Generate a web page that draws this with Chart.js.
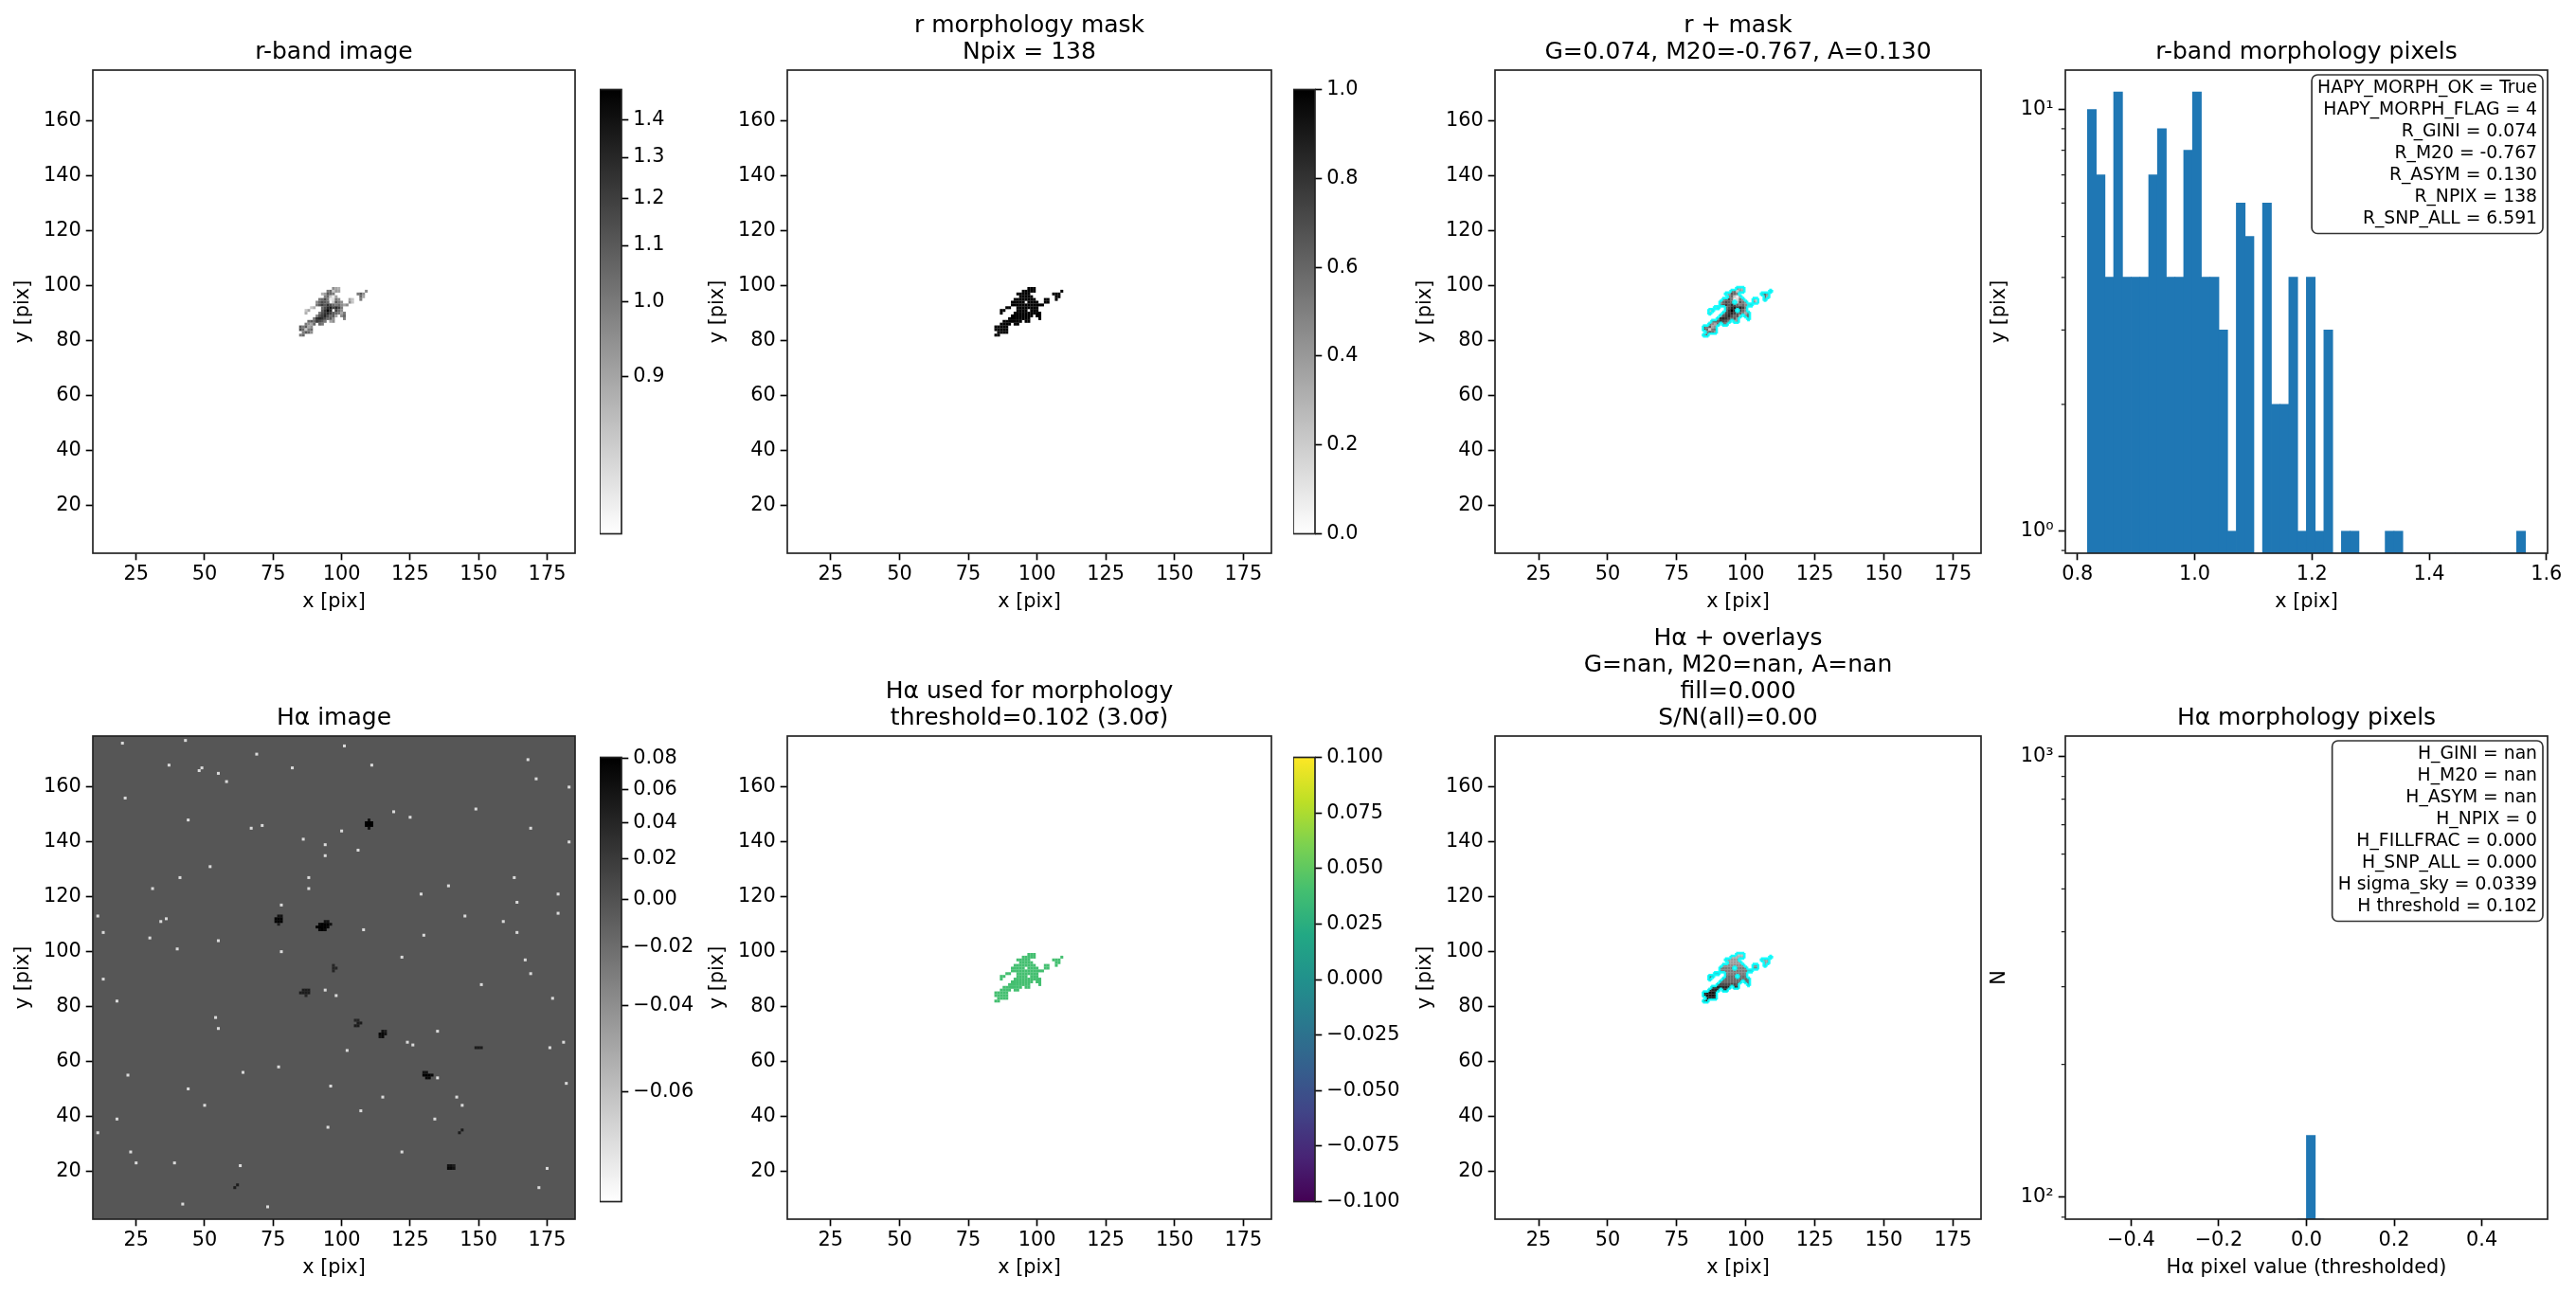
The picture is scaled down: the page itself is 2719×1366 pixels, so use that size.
<!DOCTYPE html>
<html>
<head>
<meta charset="utf-8">
<title>morphology panels</title>
<script src="https://cdn.jsdelivr.net/npm/chart.js@4/dist/chart.umd.js"></script>
<style>
  html, body { margin: 0; background: #fff; overflow: hidden; }
  canvas { position: absolute; }
</style>
</head>
<body>
<script>
// r-band flux of the morphology pixels. 0 = outside the mask
const maskXStart = 85;
const maskY = [99, 98, 97, 96, 95, 94, 93, 92, 91, 90, 89, 88, 87, 86, 85, 84, 83, 82];
const rFlux = [
  [0, 0, 0, 0, 0, 0, 0, 0, 0, 0, 0, 0, .95, .9, .88, 0, 0, 0, 0, 0, 0, 0, 0, 0, 0],
  [0, 0, 0, 0, 0, 0, 0, 0, 0, 0, 1.0, 1.05, .85, .92, .9, 0, 0, 0, 0, 0, 0, 0, 0, 0, .95],
  [0, 0, 0, 0, 0, 0, 0, 0, .88, .92, 1.1, 1.05, 1.0, 0, 0, 0, 0, 0, 0, 0, 0, 1.0, 1.1, .95, 0],
  [0, 0, 0, 0, 0, 0, 0, 0, 0, .98, 1.05, .85, .82, .9, 0, 0, 0, 0, 0, 0, 0, 0, 1.05, .9, 0],
  [0, 0, 0, 0, 0, 0, 0, 1.0, 1.05, 1.15, 1.0, .82, .83, 1.0, .95, 0, 0, 0, .9, .85, 0, 0, 1.0, 0, 0],
  [0, 0, 0, 0, 0, 0, .95, 1.05, 1.15, 1.1, 1.05, 0, .85, 1.1, 1.0, .95, 0, 0, .95, .85, 0, 0, 0, 0, 0],
  [0, 0, 0, 0, 0, 0, 1.0, 1.1, 1.2, 1.1, 1.25, 1.15, 1.05, 1.0, 1.05, .95, .9, .95, 0, 0, 0, 0, 0, 0, 0],
  [0, 0, 0, 0, .85, .88, 0, 0, 1.05, 1.15, 1.3, 1.35, 1.2, 1.3, 1.2, 1.0, 0, 0, 0, 0, 0, 0, 0, 0, 0],
  [0, 0, .85, .9, 0, 0, 0, 0, 1.1, 1.25, 1.48, 1.3, 0, 1.2, 1.05, .95, 0, 0, 0, 0, 0, 0, 0, 0, 0],
  [0, 0, .88, 0, 0, 0, 0, 1.0, 1.15, 1.25, 1.3, 1.2, 1.1, 1.05, 1.0, .9, 1.0, 0, 0, 0, 0, 0, 0, 0, 0],
  [0, 0, 0, 0, 0, 0, .95, 1.1, 1.2, 1.3, 1.15, 1.05, 1.1, .9, 0, .95, 1.05, 0, 0, 0, 0, 0, 0, 0, 0],
  [0, 0, 0, 0, 0, 1.0, 1.25, 1.3, 1.25, 1.15, 1.05, 1.1, .95, 0, 0, 0, .98, 0, 0, 0, 0, 0, 0, 0, 0],
  [0, 0, 0, 1.05, 1.1, 1.05, 1.2, 1.15, 1.1, 1.0, 0, .9, .95, 0, 0, 0, 0, 0, 0, 0, 0, 0, 0, 0, 0],
  [0, 0, 1.0, .95, .9, 1.05, 0, 1.05, 1.0, 0, 0, 0, 0, 0, 0, 0, 0, 0, 0, 0, 0, 0, 0, 0, 0],
  [1.1, 1.0, 1.1, .9, .95, 0, 0, 0, 0, 0, 0, 0, 0, 0, 0, 0, 0, 0, 0, 0, 0, 0, 0, 0, 0],
  [1.15, 1.05, .85, 1.0, 1.05, 0, 0, 0, 0, 0, 0, 0, 0, 0, 0, 0, 0, 0, 0, 0, 0, 0, 0, 0, 0],
  [0, 1.0, 1.1, 1.05, .95, 0, 0, 0, 0, 0, 0, 0, 0, 0, 0, 0, 0, 0, 0, 0, 0, 0, 0, 0, 0],
  [1.0, 1.05, 0, 0, 0, 0, 0, 0, 0, 0, 0, 0, 0, 0, 0, 0, 0, 0, 0, 0, 0, 0, 0, 0, 0]
];
// rough darkness of the lower right overlay panel along each mask row
const haOverlayRow = [.86, .88, .92, .92, .95, 1.0, 1.0, 1.0, 1.05, 1.05, 1.05, 1.15, 1.3, 1.3, 1.4, 1.4, 1.35, 1.3];

// H-alpha sky: the noise can't be read pixel by pixel, so this is the flat mean
// plus the bright specks and dark knots that can be picked out of the picture
const haSkyMean = -0.003;
const haBrightX = [20, 43, 101, 69, 11, 13, 36, 40, 31, 44, 67, 71, 94, 94, 106, 86, 58, 49, 149, 169, 183, 179, 164, 145, 139, 129, 122, 130, 151, 169, 177, 54, 55, 98, 94, 78, 55, 30, 13, 18, 18, 22, 23, 25, 39, 44, 142, 144, 135, 124, 126, 135, 176, 181, 182, 107, 95, 102, 96, 73, 42, 63, 175, 172, 168, 183, 171, 119, 122, 134, 115, 50, 11, 77, 64, 78, 88, 163, 164, 179, 167, 159, 125, 111, 41, 88, 37, 48, 55, 82, 21, 100, 52, 34, 108];
const haBrightY = [176, 177, 175, 172, 113, 107, 112, 101, 123, 148, 145, 146, 139, 135, 137, 141, 162, 167, 152, 145, 140, 121, 118, 113, 124, 121, 98, 106, 88, 92, 83, 76, 72, 84, 86, 100, 104, 105, 90, 82, 39, 55, 27, 23, 23, 50, 47, 44, 54, 67, 66, 71, 65, 67, 52, 42, 36, 64, 51, 7, 8, 22, 21, 14, 170, 160, 163, 151, 27, 39, 47, 44, 34, 58, 56, 117, 123, 127, 107, 114, 97, 111, 149, 168, 127, 127, 168, 166, 165, 167, 156, 144, 131, 111, 108];
const haDarkX = [109, 110, 111, 109, 110, 111, 110, 110, 76, 77, 78, 76, 77, 78, 77, 78, 77, 92, 93, 94, 91, 92, 93, 94, 95, 92, 93, 94, 95, 96, 94, 95, 85, 86, 87, 88, 86, 87, 88, 87, 114, 115, 114, 115, 116, 115, 116, 105, 106, 106, 107, 105, 106, 130, 131, 132, 133, 131, 132, 130, 131, 139, 140, 141, 140, 139, 141, 149, 150, 151, 97, 97, 98, 97, 143, 144, 61, 62];
const haDarkY = [146, 146, 146, 147, 147, 147, 145, 148, 111, 111, 111, 112, 112, 112, 113, 113, 110, 108, 108, 108, 109, 109, 109, 109, 109, 110, 110, 110, 110, 110, 111, 111, 85, 85, 85, 85, 86, 86, 86, 84, 69, 69, 70, 70, 70, 71, 71, 73, 73, 74, 74, 75, 75, 55, 55, 55, 55, 54, 54, 56, 56, 21, 21, 21, 22, 22, 22, 65, 65, 65, 93, 94, 94, 95, 34, 35, 14, 15];
const haDarkV = [.08, .08, .08, .08, .08, .08, .06, .06, .08, .08, .08, .08, .08, .08, .06, .06, .05, .07, .08, .07, .07, .08, .08, .08, .07, .07, .08, .08, .08, .06, .06, .06, .05, .05, .05, .05, .05, .05, .05, .04, .06, .07, .07, .07, .06, .06, .05, .05, .05, .05, .05, .04, .04, .08, .08, .08, .07, .07, .07, .06, .06, .07, .07, .06, .06, .06, .05, .05, .05, .05, .04, .04, .04, .04, .05, .05, .05, .05];
const haMaskValue = 0.04;

// histograms
const rHistBins = [.8245, .8394, .8543, .8693, .8842, .8992, .9141, .9291, .944, .9589, .9739, .9888, 1.0038, 1.0187, 1.0337, 1.0486, 1.0635, 1.0785, 1.0934, 1.1084, 1.1233, 1.1383, 1.1532, 1.1681, 1.1831, 1.198, 1.213, 1.2279, 1.2429, 1.2578, 1.2727, 1.2877, 1.3026, 1.3176, 1.3325, 1.3475, 1.3624, 1.3773, 1.3923, 1.4072, 1.4222, 1.4371, 1.4521, 1.467, 1.4819, 1.4969, 1.5118, 1.5268, 1.5417, 1.5567];
const rHistCounts = [10, 7, 4, 11, 4, 4, 4, 7, 9, 4, 4, 8, 11, 4, 4, 3, 1, 6, 5, 0, 6, 2, 2, 4, 1, 4, 1, 3, 0, 1, 1, 0, 0, 0, 1, 1, 0, 0, 0, 0, 0, 0, 0, 0, 0, 0, 0, 0, 0, 1];
const haHistBins = [-0.01, 0.01, 0.03];
const haHistCounts = [0, 138, 0];

// ticks and text
const imageXTicks = [25, 50, 75, 100, 125, 150, 175];
const imageYTicks = [20, 40, 60, 80, 100, 120, 140, 160];
const rHistXTicks = [0.8, 1.0, 1.2, 1.4, 1.6];
const haHistXTicks = [-0.4, -0.2, 0.0, 0.2, 0.4];
const rCbarTicks = [0.9, 1.0, 1.1, 1.2, 1.3, 1.4];
const maskCbarTicks = [0, 0.2, 0.4, 0.6, 0.8, 1.0];
const haCbarTicks = [-0.06, -0.04, -0.02, 0, 0.02, 0.04, 0.06, 0.08];
const haMaskCbarTicks = [-0.1, -0.075, -0.05, -0.025, 0, 0.025, 0.05, 0.075, 0.1];
const rStatsText = ['HAPY_MORPH_OK = True', 'HAPY_MORPH_FLAG = 4', 'R_GINI = 0.074', 'R_M20 = -0.767', 'R_ASYM = 0.130', 'R_NPIX = 138', 'R_SNP_ALL = 6.591'];
const haStatsText = ['H_GINI = nan', 'H_M20 = nan', 'H_ASYM = nan', 'H_NPIX = 0', 'H_FILLFRAC = 0.000', 'H_SNP_ALL = 0.000', 'H sigma_sky = 0.0339', 'H threshold = 0.102'];

const viridis = ['#440154', '#482475', '#414487', '#355f8d', '#2a788e', '#21918c', '#22a884', '#44bf70', '#7ad151', '#bddf26', '#fde725'];

// image display ranges
const rRange = [0.816, 1.49];
const haRange = [-0.0692, 0.0808];
const xLim = [9.2, 185.2];
const yLim = [2.5, 178.6];

const TITLE_SIZE = 25, TICK_SIZE = 20.83, STATS_SIZE = 18.75, LINE_H = 28;
const Y_BOX = 86, X_BOX = 64, PAD_R = 40;
const ROW1 = [74, 584], ROW2 = [777, 1287];

Chart.defaults.font.family = '"DejaVu Sans"';
Chart.defaults.font.size = TICK_SIZE;
Chart.defaults.color = '#000';
Chart.defaults.animation = false;
Chart.defaults.events = [];
Chart.defaults.plugins.legend.display = false;
Chart.defaults.plugins.tooltip.enabled = false;

// sqrt stretched axis for the colorbars
class SqrtScale extends Chart.LinearScale {
  getPixelForValue(v) {
    if (v === null || isNaN(v)) return NaN;
    const t = (v - this.min) / (this.max - this.min);
    return this.getPixelForDecimal(Math.sqrt(Math.max(t, 0)));
  }
  getValueForPixel(p) {
    const d = this.getDecimalForPixel(p);
    return this.min + d * d * (this.max - this.min);
  }
}
SqrtScale.id = 'sqrt';
SqrtScale.defaults = Chart.LinearScale.defaults;
Chart.register(SqrtScale);

// frame, minor ticks, backdrop and the text box
const panelExtras = {
  id: 'panelExtras',
  beforeDatasetsDraw(chart, args, opts) {
    if (opts.backdrop) {
      const a = chart.chartArea;
      chart.ctx.fillStyle = opts.backdrop;
      chart.ctx.fillRect(a.left, a.top, a.right - a.left, a.bottom - a.top);
    }
  },
  afterDraw(chart, args, opts) {
    const c = chart.ctx, a = chart.chartArea;
    c.save();
    c.strokeStyle = '#222';
    c.lineWidth = 1.67;
    c.strokeRect(a.left, a.top, a.right - a.left, a.bottom - a.top);
    if (opts.minor) {
      c.beginPath();
      opts.minor.forEach(v => {
        const p = chart.scales.y.getPixelForValue(v);
        c.moveTo(a.left - 4.2, p);
        c.lineTo(a.left, p);
      });
      c.lineWidth = 1.25;
      c.stroke();
    }
    if (opts.stats) {
      c.font = STATS_SIZE + 'px "DejaVu Sans"';
      const w = Math.max(...opts.stats.map(s => c.measureText(s).width)) + 12;
      const h = opts.stats.length * 23 + 6.5;
      const bx = a.right - 5 - w, by = a.top + 5;
      c.beginPath();
      c.roundRect(bx, by, w, h, 6);
      c.fillStyle = 'rgba(255,255,255,0.85)';
      c.fill();
      c.strokeStyle = 'rgba(0,0,0,0.8)';
      c.lineWidth = 1.67;
      c.stroke();
      c.fillStyle = '#000';
      c.textAlign = 'right';
      c.textBaseline = 'middle';
      opts.stats.forEach((s, i) => c.fillText(s, a.right - 11, by + 14 + i * 23));
    }
    c.restore();
  }
};
Chart.register(panelExtras);

const grayColor = (v, range) => {
  const t = Math.min(Math.max((v - range[0]) / (range[1] - range[0]), 0), 1);
  const g = Math.round(255 * (1 - Math.sqrt(t)));
  return `rgb(${g},${g},${g})`;
};
const viridisColor = (v, lo, hi) => {
  const i = Math.round((v - lo) / (hi - lo) * (viridis.length - 1));
  return viridis[i];
};

// cells of the morphology mask
const maskCells = [];
rFlux.forEach((row, r) => row.forEach((v, c) => {
  if (v > 0) maskCells.push({ x: maskXStart + c, y: maskY[r], v, level: haOverlayRow[r] });
}));

// outline of the mask along the pixel edges, gaps between the pieces
const inMask = (x, y) => maskCells.some(p => p.x === x && p.y === y);
const maskOutline = [];
maskCells.forEach(({ x, y }) => {
  const seg = (x0, y0, x1, y1) => maskOutline.push({ x: x0, y: y0 }, { x: x1, y: y1 }, { x: null, y: null });
  if (!inMask(x - 1, y)) seg(x - .5, y - .5, x - .5, y + .5);
  if (!inMask(x + 1, y)) seg(x + .5, y - .5, x + .5, y + .5);
  if (!inMask(x, y - 1)) seg(x - .5, y - .5, x + .5, y - .5);
  if (!inMask(x, y + 1)) seg(x - .5, y + .5, x + .5, y + .5);
});

const cellRadius = ctx => {
  const area = ctx.chart.chartArea;
  if (!area) return 2;
  return area.width / (xLim[1] - xLim[0]) * Math.SQRT1_2 + 0.1;
};
const cellDataset = (cells, colorOf, order) => ({
  data: cells,
  order: order,
  pointStyle: 'rect',
  pointRadius: cellRadius,
  pointBorderWidth: 0,
  pointBackgroundColor: ctx => colorOf(ctx.raw),
  showLine: false
});
const outlineDataset = () => ({
  data: maskOutline,
  order: 0,
  showLine: true,
  spanGaps: false,
  pointRadius: 0,
  borderColor: 'rgba(0,255,255,0.9)',
  borderWidth: 2.6
});

const makeCanvas = (left, top, width, height) => {
  const cv = document.createElement('canvas');
  cv.width = width;
  cv.height = height;
  cv.style.left = left + 'px';
  cv.style.top = top + 'px';
  document.body.appendChild(cv);
  return cv.getContext('2d');
};

const axisOpts = (ticks, label, lim, boxFit, fmt, pad) => ({
  type: 'linear',
  bounds: 'data',
  offset: false,
  min: lim[0],
  max: lim[1],
  afterBuildTicks: s => { s.ticks = ticks.map(value => ({ value })); },
  afterFit: boxFit,
  grid: { offset: false, drawOnChartArea: false, tickLength: 7.3, tickColor: '#000', tickWidth: 1.67 },
  border: { display: false },
  ticks: { autoSkip: false, maxRotation: 0, padding: pad, callback: fmt },
  title: { display: true, text: label, font: { size: TICK_SIZE }, padding: 0 }
});

const panel = (cfg) => {
  const [top, bottom] = cfg.row;
  const titleLines = cfg.title.length;
  const titleH = titleLines * LINE_H + 5;
  const yBox = cfg.yBox || Y_BOX;
  const ctx = makeCanvas(cfg.left - yBox, top - titleH, yBox + cfg.right - cfg.left + PAD_R, titleH + bottom - top + X_BOX);
  const xScale = axisOpts(cfg.xTicks || imageXTicks, cfg.xLabel || 'x [pix]', cfg.xLim || xLim, s => { s.height = X_BOX; }, cfg.xFmt || (v => String(v)), 3);
  let yScale = axisOpts(imageYTicks, cfg.yLabel || 'y [pix]', yLim, s => { s.width = yBox; }, v => String(v), 5);
  if (cfg.log) {
    yScale = Object.assign(yScale, {
      type: 'logarithmic',
      min: cfg.log.min,
      max: cfg.log.max,
      afterBuildTicks: s => { s.ticks = cfg.log.ticks.map(value => ({ value })); },
      ticks: { autoSkip: false, maxRotation: 0, padding: 5, callback: v => cfg.log.labels[cfg.log.ticks.indexOf(v)] }
    });
  }
  return new Chart(ctx, {
    type: cfg.type || 'scatter',
    data: cfg.data,
    options: {
      responsive: false,
      devicePixelRatio: 1,
      layout: { padding: { right: PAD_R } },
      scales: { x: xScale, y: yScale },
      elements: { bar: { borderWidth: 0, inflateAmount: 0.4 } },
      plugins: {
        title: {
          display: true,
          text: cfg.title,
          fullSize: false,
          color: '#000',
          font: { size: TITLE_SIZE, weight: 'normal', lineHeight: LINE_H / TITLE_SIZE },
          padding: { top: 0, bottom: 5 }
        },
        panelExtras: { backdrop: cfg.backdrop, minor: cfg.log && cfg.log.minor, stats: cfg.stats }
      }
    }
  });
};

const colorbar = (cfg) => {
  const padV = 16, boxW = 100;
  const [top, bottom] = cfg.y;
  const ctx = makeCanvas(cfg.x[0], top - padV, cfg.x[1] - cfg.x[0] + boxW, bottom - top + 2 * padV);
  return new Chart(ctx, {
    type: 'bar',
    data: {
      labels: [''],
      datasets: [{
        data: [cfg.lim],
        barPercentage: 1,
        categoryPercentage: 1,
        borderWidth: 0,
        backgroundColor: c => {
          const a = c.chart.chartArea;
          if (!a) return '#888';
          const g = c.chart.ctx.createLinearGradient(0, a.bottom, 0, a.top);
          cfg.stops.forEach((col, i) => g.addColorStop(i / (cfg.stops.length - 1), col));
          return g;
        }
      }]
    },
    options: {
      responsive: false,
      devicePixelRatio: 1,
      layout: { padding: { top: padV, bottom: padV } },
      scales: {
        x: { display: false },
        y: {
          type: cfg.scale,
          position: 'right',
          bounds: 'data',
          min: cfg.lim[0],
          max: cfg.lim[1],
          afterBuildTicks: s => { s.ticks = cfg.ticks.map(value => ({ value })); },
          afterFit: s => { s.width = boxW; },
          grid: { drawOnChartArea: false, tickLength: 7.3, tickColor: '#000', tickWidth: 1.67 },
          border: { display: false },
          ticks: { autoSkip: false, padding: 5, callback: v => v.toFixed(cfg.digits).replace('-', '\u2212') }
        }
      }
    }
  });
};

const grayStops = ['#ffffff', '#000000'];
const histData = (bins, counts) => ({
  datasets: [{
    data: bins.map((x, i) => ({ x, y: counts[i] })),
    backgroundColor: '#1f77b4',
    barPercentage: 1,
    categoryPercentage: 1,
    borderWidth: 0
  }]
});
const oneDecimalMinus = v => v.toFixed(1).replace('-', '\u2212');

// top row
panel({
  left: 98, right: 607, row: ROW1, title: ['r-band image'],
  data: { datasets: [cellDataset(maskCells, p => grayColor(p.v, rRange), 1)] }
});
colorbar({ x: [633, 656], y: [93, 565], scale: 'sqrt', lim: rRange, ticks: rCbarTicks, digits: 1, stops: grayStops });

panel({
  left: 831, right: 1342, row: ROW1, title: ['r morphology mask', 'Npix = 138'],
  data: { datasets: [cellDataset(maskCells, () => '#000', 1)] }
});
colorbar({ x: [1365, 1388], y: [93, 565], scale: 'linear', lim: [0, 1], ticks: maskCbarTicks, digits: 1, stops: grayStops });

panel({
  left: 1578, right: 2091, row: ROW1, title: ['r + mask', 'G=0.074, M20=-0.767, A=0.130'],
  data: { datasets: [outlineDataset(), cellDataset(maskCells, p => grayColor(p.v, rRange), 1)] }
});

panel({
  left: 2180, right: 2689, row: ROW1, yBox: 82, title: ['r-band morphology pixels'], type: 'bar',
  xTicks: rHistXTicks, xLim: [0.7793, 1.602], xFmt: v => v.toFixed(1),
  log: { min: 0.887, max: 12.4, ticks: [1, 10], labels: ['10\u2070', '10\u00b9'], minor: [0.9, 2, 3, 4, 5, 6, 7, 8, 9] },
  data: histData(rHistBins, rHistCounts), stats: rStatsText
});

// bottom row
const haCells = [
  ...haBrightX.map((x, i) => ({ x, y: haBrightY[i], v: -0.066 })),
  ...haDarkX.map((x, i) => ({ x, y: haDarkY[i], v: haDarkV[i] }))
];
panel({
  left: 98, right: 607, row: ROW2, title: ['H\u03b1 image'],
  backdrop: grayColor(haSkyMean, haRange),
  data: { datasets: [cellDataset(haCells, p => grayColor(p.v, haRange), 1)] }
});
colorbar({ x: [633, 656], y: [798, 1270], scale: 'sqrt', lim: haRange, ticks: haCbarTicks, digits: 2, stops: grayStops });

panel({
  left: 831, right: 1342, row: ROW2, title: ['H\u03b1 used for morphology', 'threshold=0.102 (3.0\u03c3)'],
  data: { datasets: [cellDataset(maskCells, () => viridisColor(haMaskValue, -0.1, 0.1), 1)] }
});
colorbar({ x: [1365, 1388], y: [798, 1270], scale: 'linear', lim: [-0.1, 0.1], ticks: haMaskCbarTicks, digits: 3, stops: viridis });

panel({
  left: 1578, right: 2091, row: ROW2, title: ['H\u03b1 + overlays', 'G=nan, M20=nan, A=nan', 'fill=0.000', 'S/N(all)=0.00'],
  data: { datasets: [outlineDataset(), cellDataset(maskCells, p => grayColor(p.level, rRange), 1)] }
});

panel({
  left: 2180, right: 2689, row: ROW2, yBox: 82, title: ['H\u03b1 morphology pixels'], type: 'bar',
  xLabel: 'H\u03b1 pixel value (thresholded)', yLabel: 'N',
  xTicks: haHistXTicks, xLim: [-0.55, 0.55], xFmt: oneDecimalMinus,
  log: { min: 89.1, max: 1112, ticks: [100, 1000], labels: ['10\u00b2', '10\u00b3'], minor: [90, 200, 300, 400, 500, 600, 700, 800, 900] },
  data: histData(haHistBins, haHistCounts), stats: haStatsText
});
</script>
</body>
</html>
